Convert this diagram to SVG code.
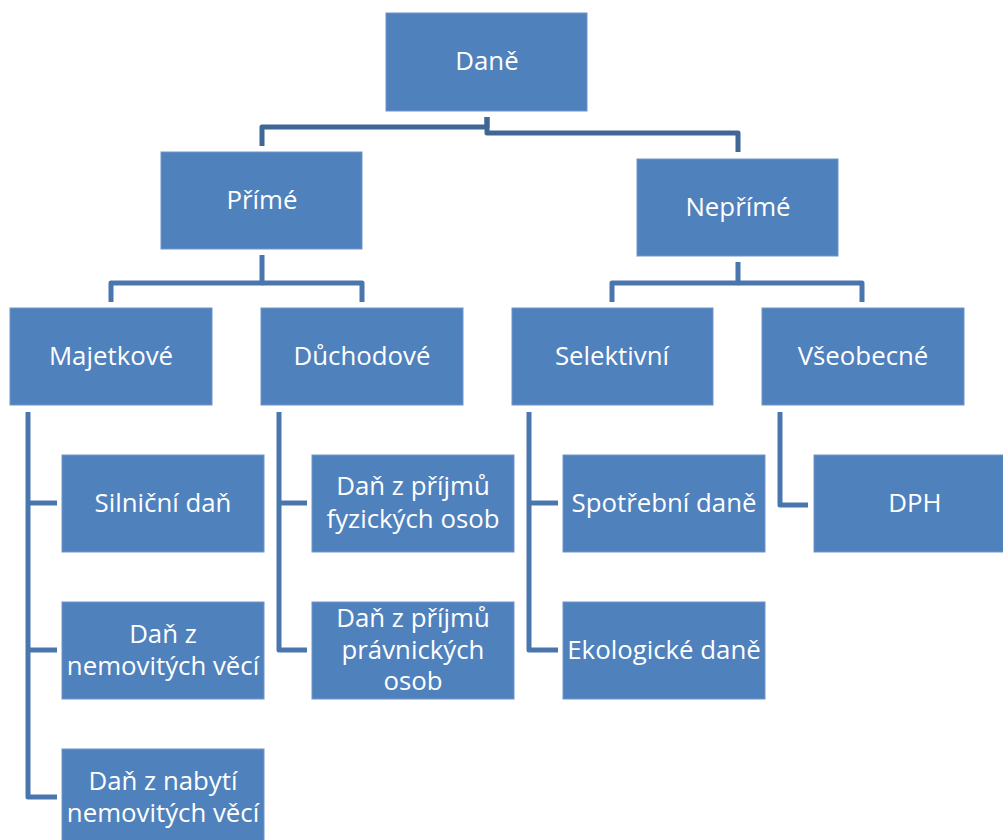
<svg xmlns="http://www.w3.org/2000/svg" width="1003" height="840" viewBox="0 0 1003 840">
<style>
.box{fill:#4F81BD;stroke:#7093C8;stroke-width:1}
.t{font-family:"Open Sans","Noto Sans","DejaVu Sans",sans-serif;font-size:25.8px;fill:#FFFFFF;text-anchor:middle}
.c{fill:none;stroke:#4A76AE;stroke-width:5;stroke-linejoin:round}
.c0{fill:none;stroke:#3F6696;stroke-width:5;stroke-linejoin:round}
</style>
<rect width="1003" height="840" fill="#FFFFFF"/>
<g id="connectors">
<path class="c0" d="M487,117 V127 H262 V146"/>
<path class="c0" d="M487,117 V133 H738 V152"/>
<path class="c" d="M262,255 V283 H111 V302"/>
<path class="c" d="M262,283 H362 V302"/>
<path class="c" d="M738,262 V283 H612 V302"/>
<path class="c" d="M738,283 H862 V302"/>
<path class="c" d="M28,412 V797 H57"/>
<path class="c" d="M28,503 H57"/>
<path class="c" d="M28,650 H57"/>
<path class="c" d="M279,412 V650 H307"/>
<path class="c" d="M279,503 H307"/>
<path class="c" d="M529,412 V650 H558"/>
<path class="c" d="M529,503 H558"/>
<path class="c" d="M780,412 V505 H808"/>
</g>
<g id="n-dane"><rect class="box" x="386" y="13" width="201" height="98"/><text class="t" x="487" y="70">Daně</text></g>
<g id="n-prime"><rect class="box" x="161" y="152" width="201" height="97"/><text class="t" x="262" y="209">Přímé</text></g>
<g id="n-neprime"><rect class="box" x="637" y="159" width="201" height="97"/><text class="t" x="738" y="216">Nepřímé</text></g>
<g id="n-majetkove"><rect class="box" x="10" y="308" width="202" height="97"/><text class="t" x="111" y="365">Majetkové</text></g>
<g id="n-duchodove"><rect class="box" x="261" y="308" width="202" height="97"/><text class="t" x="362" y="365">Důchodové</text></g>
<g id="n-selektivni"><rect class="box" x="512" y="308" width="201" height="97"/><text class="t" x="612" y="365">Selektivní</text></g>
<g id="n-vseobecne"><rect class="box" x="762" y="308" width="202" height="97"/><text class="t" x="863" y="365">Všeobecné</text></g>
<g id="n-silnicni"><rect class="box" x="62" y="455" width="202" height="97"/><text class="t" x="163" y="512">Silniční daň</text></g>
<g id="n-nemovitych"><rect class="box" x="62" y="602" width="202" height="97"/><text class="t" x="163" y="643">Daň z</text><text class="t" x="163" y="675">nemovitých věcí</text></g>
<g id="n-nabyti"><rect class="box" x="62" y="749" width="202" height="97"/><text class="t" x="163" y="790">Daň z nabytí</text><text class="t" x="163" y="822">nemovitých věcí</text></g>
<g id="n-fyzickych"><rect class="box" x="312" y="455" width="202" height="97"/><text class="t" x="413" y="495">Daň z příjmů</text><text class="t" x="413" y="528">fyzických osob</text></g>
<g id="n-pravnickych"><rect class="box" x="312" y="602" width="202" height="97"/><text class="t" x="413" y="627">Daň z příjmů</text><text class="t" x="413" y="659">právnických</text><text class="t" x="413" y="690">osob</text></g>
<g id="n-spotrebni"><rect class="box" x="563" y="455" width="202" height="97"/><text class="t" x="664" y="512">Spotřební daně</text></g>
<g id="n-ekologicke"><rect class="box" x="563" y="602" width="202" height="97"/><text class="t" x="664" y="659">Ekologické daně</text></g>
<g id="n-dph"><rect class="box" x="814" y="455" width="202" height="97"/><text class="t" x="915" y="512">DPH</text></g>
</svg>
